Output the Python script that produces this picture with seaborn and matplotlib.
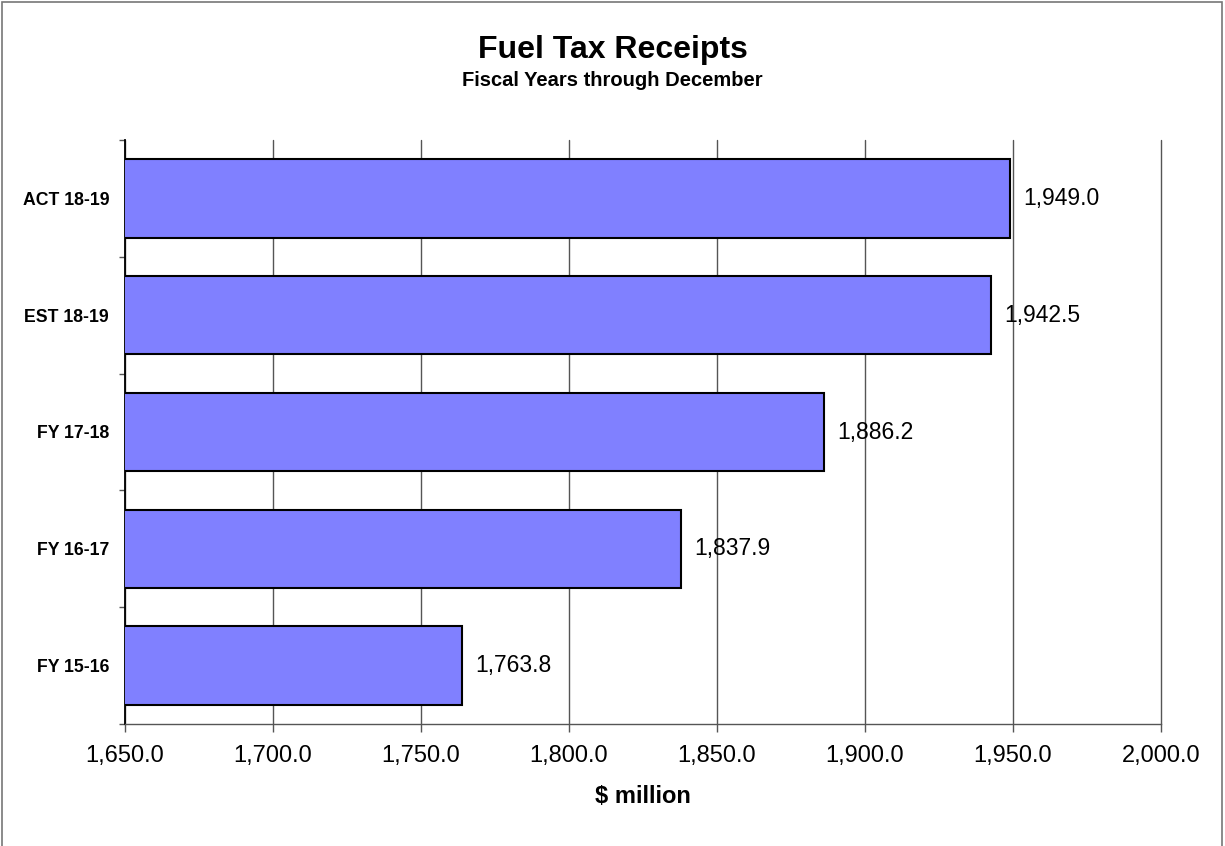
import matplotlib
matplotlib.use("Agg")
import matplotlib.pyplot as plt
import seaborn as sns
import pandas as pd
from matplotlib.ticker import FixedLocator, FuncFormatter
from matplotlib.patches import Rectangle

categories = ["ACT 18-19", "EST 18-19", "FY 17-18", "FY 16-17", "FY 15-16"]
values = [1949.0, 1942.5, 1886.2, 1837.9, 1763.8]
xticks = [1650, 1700, 1750, 1800, 1850, 1900, 1950, 2000]

sns.set_theme(style="white")
plt.rcParams['font.family'] = ['Liberation Sans', 'DejaVu Sans']

df = pd.DataFrame({"cat": categories, "val": values})

W, H = 1225, 846
fig = plt.figure(figsize=(W / 100, H / 100), dpi=100)
ax = fig.add_axes([125 / W, 1 - 724 / H, (1161 - 125) / W, (724 - 140) / H])

sns.barplot(data=df, y="cat", x="val", orient="h", color="#8080FF",
            saturation=1, edgecolor="black", linewidth=1.5, width=0.67, ax=ax, zorder=3)

ax.set_xlim(1650, 2000)
ax.set_ylim(4.5, -0.5)
ax.set_xticks(xticks)
ax.xaxis.set_major_formatter(FuncFormatter(lambda v, p: f"{v:,.1f}"))
ax.tick_params(axis="x", labelsize=17, length=5.8, width=1, color="#555555", pad=9.5,
               direction="out", bottom=True, labelcolor="black")
ax.grid(axis="x", color="#555555", linewidth=1, zorder=0)
ax.set_axisbelow(True)
for gl in ax.get_xgridlines():
    gl.set_clip_on(False)

ax.yaxis.set_minor_locator(FixedLocator([i - 0.5 for i in range(len(categories) + 1)]))
ax.tick_params(axis="y", which="major", length=0, labelsize=12.7, pad=11.5, labelcolor="black")
ax.tick_params(axis="y", which="minor", length=4, width=1, color="#555555", left=True)
for lbl in ax.get_yticklabels():
    lbl.set_fontweight("bold")

ax.set_ylabel("")
ax.set_xlabel(r"\$ million", fontsize=17, fontweight="bold", color="black")
ax.xaxis.set_label_coords(0.5, (724 - 785) / (724 - 140))

for s in ["top", "right"]:
    ax.spines[s].set_visible(False)
ax.spines["left"].set_color("black")
ax.spines["left"].set_linewidth(1.3)
ax.spines["bottom"].set_color("#555555")
ax.spines["bottom"].set_linewidth(1)

for i, v in enumerate(values):
    ax.annotate(f"{v:,.1f}", xy=(v, i), xytext=(9.5, 0), textcoords="offset points",
                ha="left", va="center", fontsize=16.5, color="black", zorder=5)

fig.text(0.5, 1 - 58 / H, "Fuel Tax Receipts", ha="center", va="baseline",
         fontsize=23, fontweight="bold", color="black")
fig.text(0.5, 1 - 86 / H, "Fiscal Years through December", ha="center", va="baseline",
         fontsize=14.5, fontweight="bold", color="black")

fig.patches.append(Rectangle((2 / W, -0.01), 1220 / W, 1.0 - 2 / H + 0.01, transform=fig.transFigure,
                             fill=False, edgecolor="#777777", linewidth=1.2))

fig.savefig("out.png", dpi=100)
